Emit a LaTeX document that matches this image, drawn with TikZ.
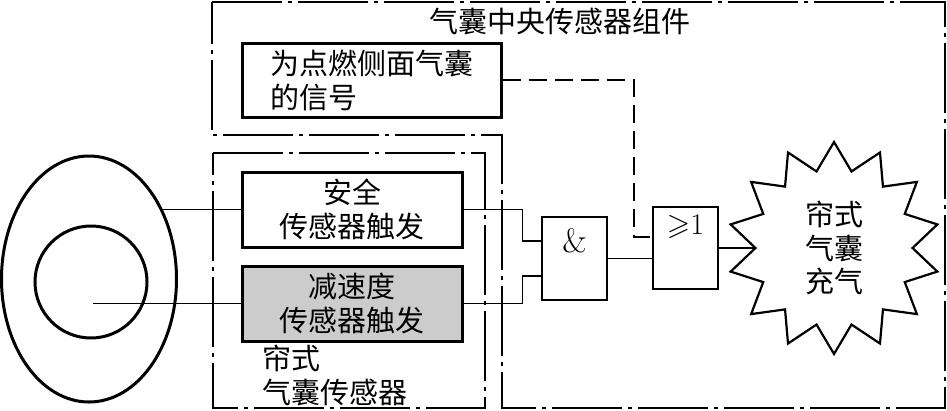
\documentclass[tikz,border=0pt]{standalone}
\usepackage{fontspec}
\usepackage{amssymb}
\newfontfamily\cjk{Noto Sans CJK SC}
\usetikzlibrary{shapes.geometric}
\begin{document}
\begin{tikzpicture}[x=1pt,y=-1pt,
  cjkfont/.style={font=\cjk\fontsize{29}{34}\selectfont},
  textbox/.style={draw, line width=3pt, minimum width=220pt, minimum height=75pt, inner sep=0pt, align=center, cjkfont},
  gate/.style={draw, line width=2pt, minimum width=65pt, inner sep=0pt},
  wire/.style={line width=1.8pt},
  sigwire/.style={line width=2pt, dash pattern=on 18pt off 8pt},
  zone/.style={line width=2.4pt, dash pattern=on 70pt off 6pt on 4pt off 6pt},
  body/.style={draw, line width=3pt, inner sep=0pt}]
\useasboundingbox (0,0) rectangle (947,410);

% zones
\draw[zone] (212,2) -- (945,2) -- (945,408) -- (502,408) -- (502,135) -- (212,135) -- cycle;
\draw[zone] (213,153) -- (485,153) -- (485,408) -- (213,408) -- cycle;

\node[cjkfont, inner sep=0pt] (title) at (560,22) {气囊中央传感器组件};

% boxes
\node[textbox, minimum width=259pt, minimum height=74pt, align=left] (side) at (371.5,80) {为点燃侧面气囊\\的信号};
\node[textbox] (safe) at (352,209.5) {安全\\传感器触发};
\node[textbox, fill=black!20] (decel) at (352,303.5) {减速度\\传感器触发};
\node[cjkfont, anchor=west, align=left, inner sep=0pt] (curt) at (262,375) {帘式\\气囊传感器};

% gates
\node[gate, minimum height=83pt] (andg) at (574.5,258.5) {};
\node[font=\fontsize{34}{34}\selectfont, inner sep=0pt] (andtxt) at ([yshift=-25pt]andg.north) {\&};
\node[gate, minimum height=82pt] (org) at (685.5,248) {};
\node[font=\fontsize{30}{30}\selectfont, inner sep=0pt] (ortxt) at ([yshift=-21pt]org.north) {$\geqslant$1};

% airbag star
\node[star, star points=14, star point ratio=1.35, minimum size=212pt, draw, line width=2.2pt, inner sep=0pt, align=center, font=\cjk\fontsize{29}{33.5}\selectfont] (bag) at (834,248) {帘式\\气囊\\充气};

% body (head)
\node[body, ellipse, minimum width=175pt, minimum height=246pt] (outerEll) at (89,279) {};
\node[body, circle, minimum size=112pt] (innerC) at (91,282) {};
\coordinate (c1) at (162,209.5);
\coordinate (c2) at (93,303.5);

% wires
\draw[wire] (c1) -- (safe.west);
\draw[wire] (c2) -- (decel.west);
\draw[wire] (safe.east) -- ++(59,0) |- ([yshift=17.5pt]andg.west);
\draw[wire] (decel.east) -- ++(59,0) |- ([yshift=-17.5pt]andg.west);
\draw[wire] (andg.east) -- (andg.east -| org.west);
\draw[sigwire] (side.east) -- ++(131,0) |- ([yshift=11pt]org.west);
\draw[wire] (org.east) -- (bag.west);
\end{tikzpicture}
\end{document}
